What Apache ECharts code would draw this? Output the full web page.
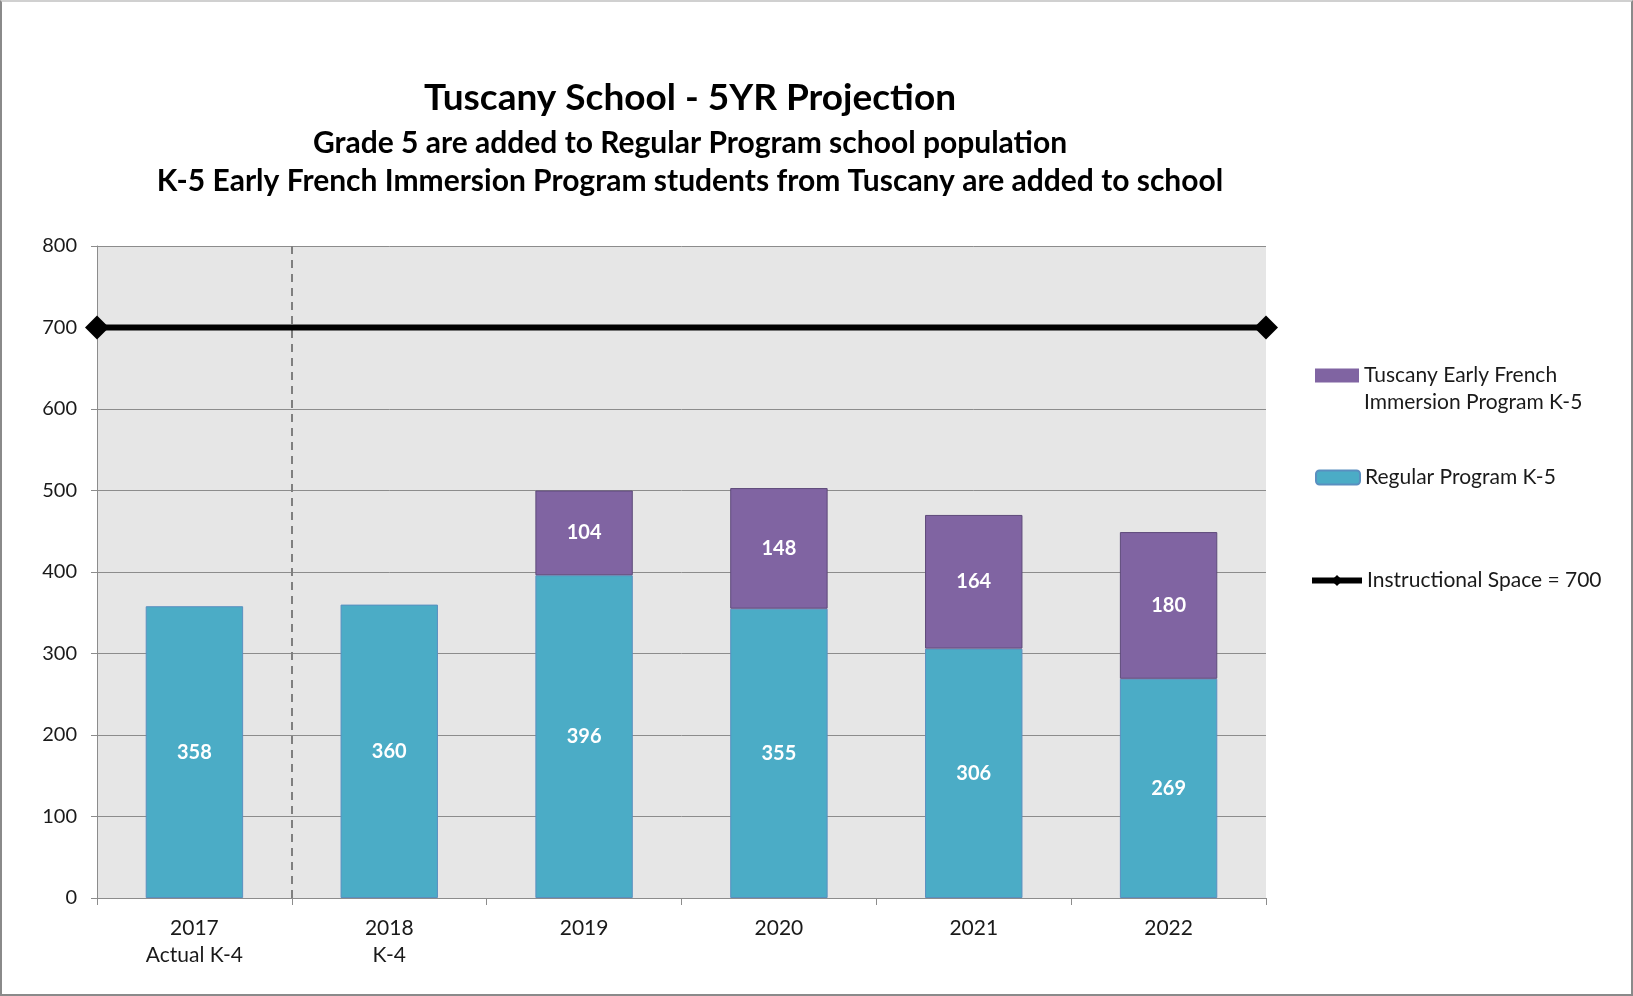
<!DOCTYPE html>
<html>
<head>
<meta charset="utf-8">
<script src="https://cdn.jsdelivr.net/npm/echarts@6/dist/echarts.min.js"></script>
<style>
  html, body { margin: 0; padding: 0; background: #fff; }
  #main { position: absolute; left: 0; top: 0; width: 1633px; height: 996px; }
  #frame { position: absolute; left: 0; top: 0; width: 1633px; height: 996px; box-sizing: border-box;
           border: 2px solid #8a8a8a; border-top-color: #d0d0d0; pointer-events: none; }
</style>
</head>
<body>
<div id="main"></div>
<div id="frame"></div>
<script>
var categories = ['2017\nActual K-4', '2018\nK-4', '2019', '2020', '2021', '2022'];
var regularProgram = [358, 360, 396, 355, 306, 269];
var frenchImmersion = [null, null, 104, 148, 164, 180];
var instructionalSpace = 700;
var yTicks = { min: 0, max: 800, interval: 100 };

var FONT = 'Lato';

// the capacity line runs across the whole plot, from the first to the last category edge
var spaceLine = [[0, instructionalSpace], [categories.length, instructionalSpace]];

var myChart = echarts.init(document.getElementById('main'));

var labelStyle = {
    show: true,
    position: 'inside',
    color: '#fff',
    fontFamily: FONT,
    fontWeight: 'bold',
    fontSize: 20,
    formatter: function (p) { return p.value == null ? '' : p.value; }
};

var legendText = { fontFamily: FONT, fontSize: 21, color: '#1a1a1a', lineHeight: 27 };

// rect at the top of a taller box, so the swatch lines up with the first text line
var topSwatch = 'path://M0 0H44V14H0Z M0 41L0.01 41';

var option = {
    animation: false,
    backgroundColor: '#fff',
    title: {
        text: 'Tuscany School - 5YR Projection',
        subtext: 'Grade 5 are added to Regular Program school population\nK-5 Early French Immersion Program students from Tuscany are added to school',
        left: 685,
        textAlign: 'center',
        top: 72,
        itemGap: 5,
        textStyle: { fontFamily: FONT, fontWeight: 'bold', fontSize: 37, color: '#000', lineHeight: 42 },
        subtextStyle: { fontFamily: FONT, fontWeight: 'bold', fontSize: 30, color: '#000', lineHeight: 38 }
    },
    legend: [
        {
            data: ['Tuscany Early French\nImmersion Program K-5'],
            orient: 'vertical', left: 1315, top: 362, padding: 0,
            itemWidth: 44, itemHeight: 41,
            icon: topSwatch,
            itemStyle: { borderWidth: 0 },
            textStyle: legendText
        },
        {
            data: ['Regular Program K-5'],
            orient: 'vertical', left: 1315, top: 464, padding: 0,
            itemWidth: 44, itemHeight: 14,
            textStyle: legendText
        },
        {
            data: ['Instructional Space = 700'],
            orient: 'vertical', left: 1309, top: 567, padding: 0,
            itemWidth: 50, itemHeight: 14,
            lineStyle: { width: 6 },
            textStyle: legendText
        }
    ],
    grid: { left: 97, top: 246, width: 1169, height: 652, show: true, backgroundColor: '#e6e6e6', borderWidth: 0 },
    xAxis: [
        {
            type: 'category',
            data: categories,
            axisLine: { show: true, lineStyle: { color: '#8c8c8c', width: 1 } },
            axisTick: { show: true, length: 7, lineStyle: { color: '#8c8c8c' } },
            axisLabel: { fontFamily: FONT, fontSize: 21, color: '#1a1a1a', lineHeight: 27, margin: 17 }
        },
        {
            type: 'value',
            min: 0,
            max: categories.length,
            show: false
        }
    ],
    yAxis: {
        type: 'value',
        min: yTicks.min,
        max: yTicks.max,
        interval: yTicks.interval,
        axisLine: { show: true, lineStyle: { color: '#8c8c8c', width: 1 } },
        axisTick: { show: true, length: 6, lineStyle: { color: '#8c8c8c' } },
        splitLine: { show: true, lineStyle: { color: '#8c8c8c', width: 1 } },
        axisLabel: { fontFamily: FONT, fontSize: 20, color: '#1a1a1a', margin: 20 }
    },
    series: [
        {
            name: 'Regular Program K-5',
            type: 'bar',
            stack: 'total',
            barWidth: '50%',
            data: regularProgram,
            itemStyle: { color: '#4bacc6', borderColor: '#5a8fc0', borderWidth: 1 },
            label: labelStyle
        },
        {
            name: 'Tuscany Early French\nImmersion Program K-5',
            type: 'bar',
            stack: 'total',
            barWidth: '50%',
            data: frenchImmersion,
            itemStyle: { color: '#8064a2', borderColor: '#5e4a7a', borderWidth: 1 },
            label: labelStyle
        },
        {
            name: 'Instructional Space = 700',
            type: 'line',
            xAxisIndex: 1,
            data: spaceLine,
            symbol: 'diamond',
            symbolSize: 24,
            itemStyle: { color: '#000' },
            lineStyle: { color: '#000', width: 6 },
            z: 5,
            markLine: {
                silent: true,
                symbol: 'none',
                label: { show: false },
                lineStyle: { color: '#7f7f7f', type: [8, 6], width: 2 },
                data: [[{ coord: [1, yTicks.max] }, { coord: [1, yTicks.min] }]]
            }
        }
    ]
};

myChart.setOption(option);
</script>
</body>
</html>
